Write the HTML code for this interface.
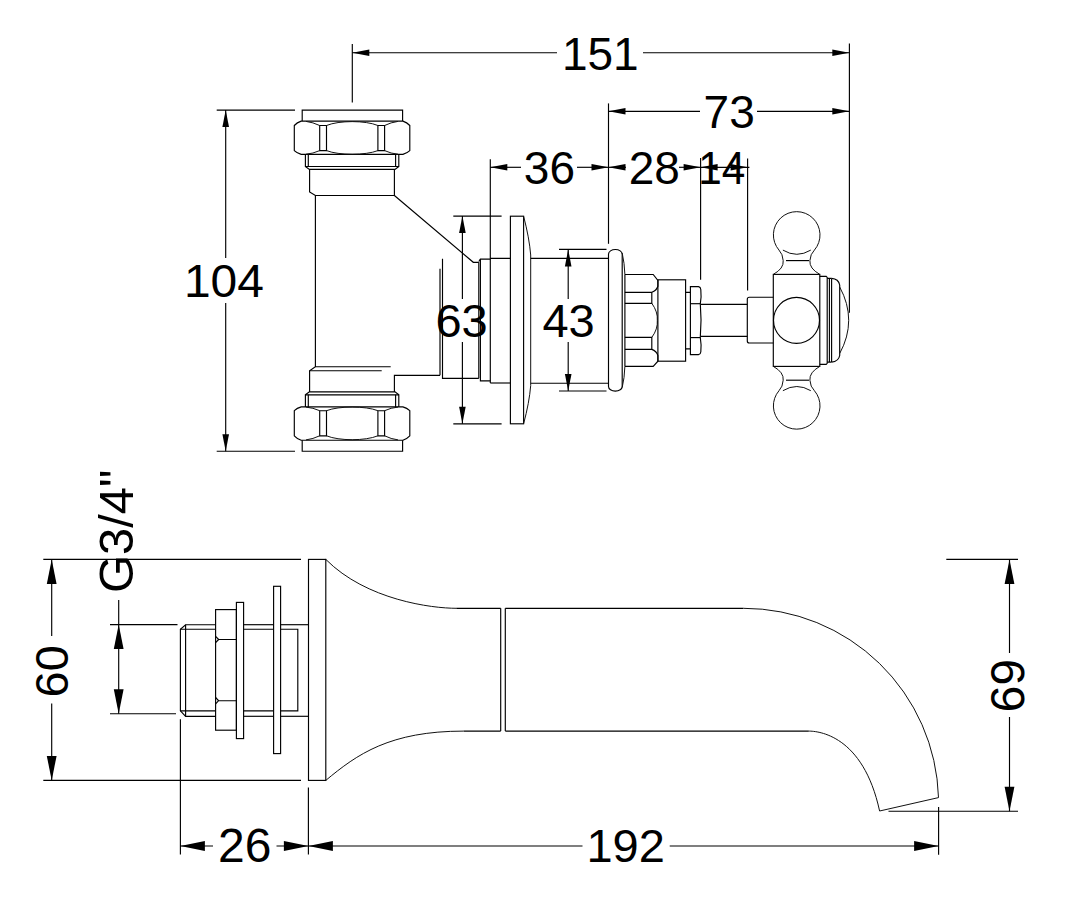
<!DOCTYPE html>
<html>
<head>
<meta charset="utf-8">
<title>Wall mounted tap &amp; spout - dimensions</title>
<style>
html,body{margin:0;padding:0;background:#fff;}
body{width:1080px;height:918px;overflow:hidden;font-family:"Liberation Sans",sans-serif;}
svg{display:block;}
svg line,svg path,svg rect,svg circle{fill:none;stroke:#000;stroke-width:1.15;stroke-linecap:butt;stroke-linejoin:miter;}
svg .t{stroke-width:1.0;stroke:#111;}
svg .a{fill:#000;stroke:none;}
svg text{font-family:"Liberation Sans",sans-serif;fill:#000;text-anchor:middle;}
</style>
</head>
<body>
<svg width="1080" height="918" viewBox="0 0 1080 918">
<rect x="0" y="0" width="1080" height="918" style="fill:#fff;stroke:none"/>
<line x1="352.3" y1="44" x2="352.3" y2="102.5"/>
<line x1="849.4" y1="43.5" x2="849.4" y2="312.7"/>
<line x1="352.3" y1="52.7" x2="557" y2="52.7"/>
<line x1="643" y1="52.7" x2="849.3" y2="52.7"/>
<polygon class="a" points="352.3,52.7 369.3,49.4 369.3,56.0"/>
<polygon class="a" points="849.3,52.7 832.3,49.4 832.3,56.0"/>
<text x="600.3" y="69.6" font-size="46">151</text>
<line x1="608.5" y1="103.4" x2="608.5" y2="243.8"/>
<line x1="608.5" y1="111.3" x2="700" y2="111.3"/>
<line x1="757" y1="111.3" x2="849.3" y2="111.3"/>
<polygon class="a" points="608.5,111.3 625.5,108.0 625.5,114.6"/>
<polygon class="a" points="849.3,111.3 832.3,108.0 832.3,114.6"/>
<text x="729.2" y="127.6" font-size="46">73</text>
<line x1="490.3" y1="159.3" x2="490.3" y2="383"/>
<line x1="490.3" y1="167.3" x2="521" y2="167.3"/>
<line x1="577" y1="167.3" x2="608.5" y2="167.3"/>
<polygon class="a" points="490.3,167.3 507.3,164.0 507.3,170.6"/>
<polygon class="a" points="608.5,167.3 591.5,164.0 591.5,170.6"/>
<text x="549.4" y="183.9" font-size="46">36</text>
<line x1="608.5" y1="167.3" x2="626" y2="167.3"/>
<line x1="679" y1="167.3" x2="700.6" y2="167.3"/>
<polygon class="a" points="608.5,167.3 625.5,164.0 625.5,170.6"/>
<polygon class="a" points="700.6,167.3 683.6,164.0 683.6,170.6"/>
<text x="654.3" y="183.9" font-size="46">28</text>
<line x1="700.6" y1="158" x2="700.6" y2="279.8"/>
<line x1="747.6" y1="158.5" x2="747.6" y2="290.5"/>
<line x1="700.6" y1="167.3" x2="749.4" y2="167.3"/>
<polygon class="a" points="700.6,167.3 717.6,164.0 717.6,170.6"/>
<polygon class="a" points="747.6,167.3 730.6,164.0 730.6,170.6"/>
<text x="721.8" y="183.9" font-size="46" textLength="47" lengthAdjust="spacingAndGlyphs">14</text>
<line x1="216.7" y1="110.1" x2="295" y2="110.1"/>
<line x1="216.7" y1="451.2" x2="295" y2="451.2"/>
<line x1="225.7" y1="110.1" x2="225.7" y2="258"/>
<line x1="225.7" y1="303" x2="225.7" y2="451.2"/>
<polygon class="a" points="225.7,110.1 222.4,127.1 229.0,127.1"/>
<polygon class="a" points="225.7,451.2 222.4,434.2 229.0,434.2"/>
<text x="223.9" y="297.3" font-size="47" textLength="80" lengthAdjust="spacingAndGlyphs">104</text>
<line x1="453.3" y1="216.1" x2="501.6" y2="216.1"/>
<line x1="453.3" y1="423.8" x2="501.6" y2="423.8"/>
<line x1="462.4" y1="216.1" x2="462.4" y2="299"/>
<line x1="462.4" y1="342" x2="462.4" y2="423.8"/>
<polygon class="a" points="462.4,216.1 459.1,233.1 465.7,233.1"/>
<polygon class="a" points="462.4,423.8 459.1,406.8 465.7,406.8"/>
<text x="461.6" y="337.3" font-size="47">63</text>
<line x1="559" y1="249.4" x2="606.5" y2="249.4"/>
<line x1="559" y1="391" x2="606.5" y2="391"/>
<line x1="568.2" y1="249.4" x2="568.2" y2="299"/>
<line x1="568.2" y1="342" x2="568.2" y2="391"/>
<polygon class="a" points="568.2,249.4 564.9,266.4 571.5,266.4"/>
<polygon class="a" points="568.2,391 564.9,374 571.5,374"/>
<text x="568.6" y="337.3" font-size="47">43</text>
<path d="M302.2,121.1 V110.1 H402.6 V121.1"/>
<path d="M301.2,121.1 H402.9 Q407,122.5 409.8,125.5 V150.6 Q407,153.2 402.9,154.4 H301.2 Q297,153.2 294.3,150.6 V125.5 Q297,122.5 301.2,121.1 Z"/>
<path d="M319.7,125.5 H326.5 V150.6 H319.7 Z"/>
<path d="M377.9,125.5 H384.6 V150.6 H377.9 Z"/>
<path d="M326.5,125.5 C339,120.3 365.4,120.3 377.9,125.5" class="t"/>
<path d="M326.5,150.6 C339,155.5 365.4,155.5 377.9,150.6" class="t"/>
<path d="M319.7,125.5 Q313,122.3 306,121.4" class="t"/>
<path d="M319.7,150.6 Q313,153.6 306,154.2" class="t"/>
<path d="M384.6,125.5 Q391,122.3 398,121.4" class="t"/>
<path d="M384.6,150.6 Q391,153.6 398,154.2" class="t"/>
<path d="M305.4,154.4 V166.5 H398.8 V154.4"/>
<line x1="308.3" y1="154.4" x2="308.3" y2="166.5"/>
<line x1="395.6" y1="154.4" x2="395.6" y2="166.5"/>
<path d="M305.4,166.5 L309.4,169.4 H395 L398.8,166.5"/>
<path d="M302.2,440.2 V451.2 H402.6 V440.2"/>
<path d="M301.2,440.2 H402.9 Q407,438.8 409.8,435.8 V410.7 Q407,408.1 402.9,406.9 H301.2 Q297,408.1 294.3,410.7 V435.8 Q297,438.8 301.2,440.2 Z"/>
<path d="M319.7,435.8 H326.5 V410.7 H319.7 Z"/>
<path d="M377.9,435.8 H384.6 V410.7 H377.9 Z"/>
<path d="M326.5,435.8 C339,441.0 365.4,441.0 377.9,435.8" class="t"/>
<path d="M326.5,410.7 C339,405.8 365.4,405.8 377.9,410.7" class="t"/>
<path d="M319.7,435.8 Q313,439.0 306,439.9" class="t"/>
<path d="M319.7,410.7 Q313,407.7 306,407.1" class="t"/>
<path d="M384.6,435.8 Q391,439.0 398,439.9" class="t"/>
<path d="M384.6,410.7 Q391,407.7 398,407.1" class="t"/>
<path d="M305.4,406.9 V394.8 H398.8 V406.9"/>
<line x1="308.3" y1="406.9" x2="308.3" y2="394.8"/>
<line x1="395.6" y1="406.9" x2="395.6" y2="394.8"/>
<path d="M305.4,394.8 L309.4,391.9 H395 L398.8,394.8"/>
<path d="M309.6,169.4 V192 L315.4,195.5 H394.4 V169.4"/>
<path d="M315.4,195.5 V366.7 L309.6,370.7 V391.9"/>
<line x1="315.4" y1="366.7" x2="390.7" y2="366.7"/>
<line x1="309.6" y1="370.7" x2="381.7" y2="370.7"/>
<path d="M394.4,195.5 L473.3,262.3 H478.8"/>
<path d="M394.4,391.9 V375.3 H440"/>
<path d="M440,268.8 V375.3"/>
<path d="M442.5,258.8 V378.3 H478.8"/>
<path d="M478.8,262.3 V378.3"/>
<path d="M478.8,261.5 L480.4,259.1 H490.3 M490.3,258.4 H510.3"/>
<path d="M480.4,259.1 V380.8 H490.3"/>
<path d="M490.3,383 H510.3"/>
<rect x="510.4" y="216.2" width="13.2" height="207.6"/>
<path d="M523.6,216.2 Q529.3,238 530.7,255 V385.6 Q529.3,402.6 523.6,423.8" class="t"/>
<line x1="530.7" y1="258.4" x2="608.5" y2="258.4"/>
<line x1="530.7" y1="383.2" x2="608.5" y2="383.2"/>
<path d="M608.5,254.2 A6.85,4.7 0 0 1 622.2,254.2 V386.4 A6.85,4.7 0 0 1 608.5,386.4 Z"/>
<path d="M622.2,253 Q624.5,263 624.9,274.5" class="t"/>
<path d="M622.2,387.6 Q624.5,378 624.9,366.3" class="t"/>
<path d="M624.9,274.5 H653.2 L657.9,280.5 V286.2 Q656.5,290.5 651.8,292.3 H624.9"/>
<path d="M624.9,303.3 H651.8 V292.3"/>
<path d="M651.8,303.3 Q658,312 657.3,320.3 Q658,329 651.8,337.4" class="t"/>
<path d="M624.9,337.4 H651.8 V349.4 H624.9"/>
<path d="M651.8,349.4 Q656.5,351 657.9,355.5 V361.2 L653.2,366.3 H624.9"/>
<line x1="624.9" y1="274.5" x2="624.9" y2="366.3"/>
<rect x="657.9" y="279.8" width="27.7" height="81.4"/>
<path d="M685.6,292.4 H690.4 M685.6,348.9 H690.4"/>
<path d="M690.4,286.6 H698.5 Q700.6,287 700.8,289.5 Q701.6,297 700.3,303.8 Q701.8,320 700.3,337.5 Q701.6,345 700.8,352 Q700.6,354.3 698.5,354.6 H690.4 Z"/>
<line x1="690.4" y1="303.7" x2="700.3" y2="303.7"/>
<line x1="690.4" y1="337.6" x2="700.3" y2="337.6"/>
<line x1="700.8" y1="304.4" x2="747.3" y2="304.4"/>
<line x1="700.8" y1="336.4" x2="747.3" y2="336.4"/>
<path d="M773.3,297.2 H749.3 Q747.3,297.2 747.3,299.2 V341 Q747.3,343 749.3,343 H773.3"/>
<rect x="773.3" y="274.4" width="46.5" height="92.0"/>
<circle cx="796.5" cy="320.3" r="23"/>
<path d="M819.8,276.4 H826.2 L827.2,277.4 V363.3 L826.2,364.3 H819.8"/>
<path d="M827.2,278.4 H831.6 M827.2,362.1 H831.6"/>
<line x1="829.4" y1="278.4" x2="829.4" y2="362.1"/>
<line x1="831.6" y1="278.4" x2="831.6" y2="362.1"/>
<path d="M831.6,278.4 Q838.6,279 839.7,285 V355.5 Q838.6,361.5 831.6,362.1"/>
<path d="M839.7,287 Q848.7,303.5 848.7,320.3 Q848.7,337 839.7,353.5" class="t"/>
<path d="M773.3,274.4 Q784,268.5 783.2,260.6 Q782.8,254 779,250.1 A23.3,23.3 0 1 1 814.4,250.1 Q810.3,254 809.9,260.6 Q809.2,268.5 819.8,274.4" class="t"/>
<line x1="786" y1="260.6" x2="809" y2="260.6"/>
<path d="M782.9,250.1 Q796.8,258.5 810.8,250.1" class="t"/>
<path d="M773.3,366.4 Q784,372.3 783.2,380.2 Q782.8,386.8 779,390.7 A23.3,23.3 0 1 0 814.4,390.7 Q810.3,386.8 809.9,380.2 Q809.2,372.3 819.8,366.4" class="t"/>
<line x1="786" y1="380.2" x2="809" y2="380.2"/>
<path d="M782.9,390.7 Q796.8,382.3 810.8,390.7" class="t"/>
<line x1="43.3" y1="559.4" x2="301" y2="559.4"/>
<line x1="43.3" y1="780.4" x2="301" y2="780.4"/>
<line x1="51.7" y1="559.4" x2="51.7" y2="636"/>
<line x1="51.7" y1="703.5" x2="51.7" y2="780.4"/>
<polygon class="a" points="51.7,559.4 46.8,583.9 56.6,583.9"/>
<polygon class="a" points="51.7,780.4 46.8,755.9 56.6,755.9"/>
<text transform="translate(68.2,671.3) rotate(-90)" font-size="47">60</text>
<line x1="110" y1="624.6" x2="177.5" y2="624.6"/>
<line x1="110" y1="713.7" x2="176" y2="713.7"/>
<line x1="118.7" y1="600" x2="118.7" y2="713.7"/>
<polygon class="a" points="118.7,624.6 113.8,649.1 123.6,649.1"/>
<polygon class="a" points="118.7,713.7 113.8,689.2 123.6,689.2"/>
<text transform="translate(132.8,531.3) rotate(-90)" font-size="49" textLength="123.5" lengthAdjust="spacingAndGlyphs">G3/4"</text>
<line x1="180.4" y1="719.3" x2="180.4" y2="854.5"/>
<line x1="308.4" y1="787.5" x2="308.4" y2="854.5"/>
<line x1="180.4" y1="846" x2="213" y2="846"/>
<line x1="276.5" y1="846" x2="308.4" y2="846"/>
<polygon class="a" points="180.4,846 204.9,841.1 204.9,850.9"/>
<polygon class="a" points="308.4,846 283.9,841.1 283.9,850.9"/>
<text x="244.8" y="861.7" font-size="48">26</text>
<line x1="938.6" y1="807" x2="938.6" y2="854.7"/>
<line x1="308.4" y1="846" x2="582.5" y2="846"/>
<line x1="669.7" y1="846" x2="938.6" y2="846"/>
<polygon class="a" points="308.4,846 332.9,841.1 332.9,850.9"/>
<polygon class="a" points="938.6,846 914.1,841.1 914.1,850.9"/>
<text x="625.6" y="861.6" font-size="47">192</text>
<line x1="946.3" y1="559.4" x2="1018" y2="559.4"/>
<line x1="888.5" y1="811.2" x2="1018" y2="811.2"/>
<line x1="1009.5" y1="559.4" x2="1009.5" y2="653"/>
<line x1="1009.5" y1="717" x2="1009.5" y2="811.2"/>
<polygon class="a" points="1009.5,559.4 1004.6,583.9 1014.4,583.9"/>
<polygon class="a" points="1009.5,811.2 1004.6,786.7 1014.4,786.7"/>
<text transform="translate(991.4,685.4) rotate(90)" font-size="48">69</text>
<path d="M215.6,624.7 H185.6 L180.4,629.2 V710.8 L185.6,716.3 H215.6"/>
<line x1="185.6" y1="624.7" x2="185.6" y2="716.3"/>
<line x1="180.4" y1="629.2" x2="215.6" y2="629.2"/>
<line x1="180.4" y1="710.8" x2="215.6" y2="710.8"/>
<rect x="215.6" y="609.6" width="20.8" height="120.6"/>
<path d="M236.4,639.5 H218.6 L215.6,636.3 M218.6,639.5 L215.6,642.7"/>
<path d="M236.4,700.7 H218.6 L215.6,697.5 M218.6,700.7 L215.6,703.9"/>
<rect x="236.4" y="602.4" width="7.2" height="136.2"/>
<line x1="243.6" y1="624.7" x2="273.6" y2="624.7"/>
<line x1="280.6" y1="624.7" x2="308.5" y2="624.7"/>
<line x1="243.6" y1="716.3" x2="273.6" y2="716.3"/>
<line x1="280.6" y1="716.3" x2="308.5" y2="716.3"/>
<path d="M243.6,629.2 H273.6 M280.6,629.2 H297.8 V710.8 H280.6 M273.6,710.8 H243.6"/>
<rect x="273.6" y="586.3" width="7.0" height="167.3"/>
<rect x="308.5" y="559.4" width="17.3" height="221.0"/>
<path d="M325.8,559.4 C366.4,600.2 432.1,608.3 456.3,608.3" class="t"/>
<line x1="456.3" y1="608.3" x2="500.7" y2="608.3"/>
<path d="M325.8,780.4 C357,754.3 389.9,731.1 463.7,731.1" class="t"/>
<line x1="463.7" y1="731.1" x2="500.7" y2="731.1"/>
<line x1="500.7" y1="608.3" x2="500.7" y2="731.1"/>
<line x1="505.3" y1="608.3" x2="505.3" y2="731.1"/>
<line x1="505.3" y1="608.3" x2="743.5" y2="608.3"/>
<line x1="505.3" y1="731.1" x2="808.8" y2="731.1"/>
<path d="M743.5,608.3 A195,195 0 0 1 938.5,797.6 L879.6,811 C863,734.4 817.5,731.1 808.8,731.1" class="t"/>
</svg>
</body>
</html>
